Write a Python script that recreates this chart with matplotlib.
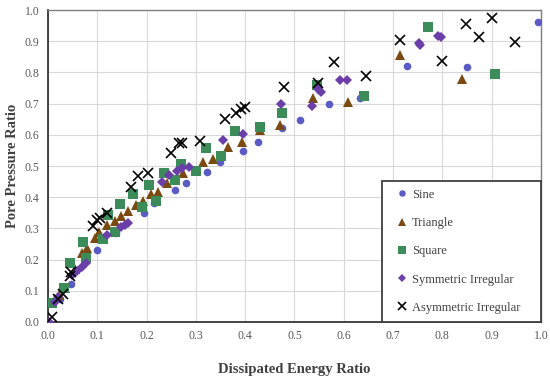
import matplotlib.pyplot as plt

plt.rcParams['font.family'] = ['Liberation Serif', 'DejaVu Serif']

# series values (x = dissipated energy ratio, y = pore pressure ratio)
sine_x = [0.025, 0.046, 0.100, 0.138, 0.195, 0.216, 0.257, 0.280, 0.323, 0.349,
          0.395, 0.425, 0.474, 0.511, 0.569, 0.633, 0.729, 0.849, 0.993]
sine_y = [0.075, 0.122, 0.231, 0.284, 0.349, 0.381, 0.422, 0.447, 0.482, 0.512,
          0.549, 0.578, 0.621, 0.647, 0.700, 0.718, 0.821, 0.818, 0.963]

tri_x = [0.023, 0.035, 0.055, 0.068, 0.080, 0.095, 0.104, 0.119, 0.136, 0.149,
         0.163, 0.178, 0.193, 0.208, 0.224, 0.242, 0.274, 0.314, 0.334, 0.366,
         0.393, 0.431, 0.471, 0.537, 0.609, 0.715, 0.840]
tri_y = [0.087, 0.110, 0.170, 0.220, 0.236, 0.268, 0.289, 0.311, 0.325, 0.340,
         0.356, 0.374, 0.388, 0.410, 0.418, 0.445, 0.477, 0.512, 0.523, 0.562,
         0.576, 0.615, 0.631, 0.717, 0.706, 0.856, 0.780]

sq_x = [0.008, 0.032, 0.045, 0.070, 0.078, 0.111, 0.122, 0.136, 0.147, 0.173,
        0.190, 0.205, 0.220, 0.235, 0.258, 0.270, 0.300, 0.320, 0.350, 0.380,
        0.430, 0.475, 0.546, 0.642, 0.771, 0.907]
sq_y = [0.060, 0.108, 0.190, 0.257, 0.204, 0.265, 0.343, 0.289, 0.378, 0.410,
        0.370, 0.440, 0.389, 0.479, 0.455, 0.507, 0.483, 0.557, 0.531, 0.612,
        0.624, 0.669, 0.760, 0.724, 0.947, 0.795]

sym_x = [0.001, 0.014, 0.021, 0.048, 0.058, 0.068, 0.078, 0.120, 0.149, 0.156,
         0.163, 0.232, 0.246, 0.261, 0.271, 0.285, 0.354, 0.395, 0.472, 0.535,
         0.548, 0.553, 0.592, 0.606, 0.753, 0.755, 0.792, 0.797]
sym_y = [0.000, 0.065, 0.080, 0.150, 0.162, 0.175, 0.190, 0.280, 0.303, 0.310,
         0.316, 0.450, 0.472, 0.484, 0.493, 0.498, 0.582, 0.604, 0.698, 0.692,
         0.746, 0.738, 0.776, 0.775, 0.893, 0.888, 0.917, 0.915]

asym_x = [0.008, 0.020, 0.030, 0.044, 0.046, 0.092, 0.100, 0.105, 0.120, 0.168,
          0.183, 0.202, 0.250, 0.266, 0.271, 0.308, 0.359, 0.381, 0.391, 0.400,
          0.479, 0.547, 0.580, 0.646, 0.715, 0.800, 0.848, 0.874, 0.901, 0.947]
asym_y = [0.017, 0.075, 0.090, 0.147, 0.161, 0.308, 0.327, 0.332, 0.350, 0.434,
          0.468, 0.479, 0.542, 0.573, 0.573, 0.581, 0.650, 0.671, 0.682, 0.688,
          0.754, 0.765, 0.832, 0.789, 0.904, 0.837, 0.955, 0.912, 0.973, 0.896]

ticks = [0.0, 0.1, 0.2, 0.3, 0.4, 0.5, 0.6, 0.7, 0.8, 0.9, 1.0]

fig = plt.figure(figsize=(5.5, 3.79), dpi=100)
ax = fig.add_axes([0.0873, 0.1504, 0.8963, 0.8232])

ax.plot(sine_x, sine_y, 'o', color='#5a5cc4', ms=5.5, mew=0, label='Sine', zorder=3)
ax.plot(tri_x, tri_y, '^', color='#7b4a10', ms=7, mew=0, label='Triangle', zorder=3)
ax.plot(sq_x, sq_y, 's', color='#3c8c5a', ms=6.5, mew=0, label='Square', zorder=3)
ax.plot(sym_x, sym_y, 'D', color='#6a3fa8', ms=5.2, mew=0, label='Symmetric Irregular', zorder=3)
ax.plot(asym_x, asym_y, 'x', color='black', ms=7, mew=1.2, label='Asymmetric Irregular', zorder=4)

ax.set_xlim(0, 1)
ax.set_ylim(0, 1)
ax.set_xticks(ticks)
ax.set_yticks(ticks)
ax.set_xticklabels([f'{t:.1f}' for t in ticks])
ax.set_yticklabels([f'{t:.1f}' for t in ticks])
ax.tick_params(length=0, labelsize=8.5, colors='#595959', pad=6)
ax.grid(True, color='#d9d9d9', linewidth=0.8)
ax.set_axisbelow(True)

for side in ['top', 'right']:
    ax.spines[side].set_color('#7f7f7f')
    ax.spines[side].set_linewidth(1.0)
for side in ['left', 'bottom']:
    ax.spines[side].set_color('#262626')
    ax.spines[side].set_linewidth(1.2)

ax.set_xlabel('Dissipated Energy Ratio', fontsize=10.5, fontweight='bold', color='#404040', labelpad=15)
ax.set_ylabel('Pore Pressure Ratio', fontsize=10.5, fontweight='bold', color='#404040', labelpad=4)

leg = ax.legend(loc='lower left', bbox_to_anchor=(0.6775, 0.0, 0.3225, 0.5), mode='expand',
                borderaxespad=0, fontsize=9, frameon=True, fancybox=False,
                edgecolor='#404040', framealpha=1, handlelength=1.9, handletextpad=-0.15,
                labelspacing=1.3, borderpad=0.65, markerscale=0.85)
leg.get_frame().set_linewidth(1.3)
for t in leg.get_texts():
    t.set_color('#404040')

fig.savefig('out.png', dpi=100)
